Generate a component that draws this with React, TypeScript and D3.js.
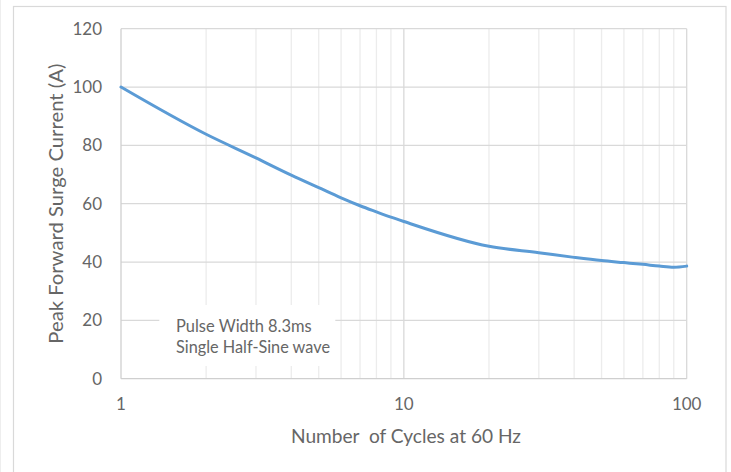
import React from "react";
import * as d3 from "d3";

const cycles = [1, 2, 3, 4, 5, 6, 7, 8, 9, 10, 20, 30, 40, 50, 60, 70, 80, 90, 100];
const current = [100, 83.8, 75.7, 69.8, 65.5, 62.0, 59.3, 57.2, 55.4, 53.9, 45.4, 43.2, 41.6, 40.5, 39.8, 39.2, 38.6, 38.2, 38.6];
const yTicks = [0, 20, 40, 60, 80, 100, 120];
const xMajorTicks = [1, 10, 100];
const xMinorTicks = [2, 3, 4, 5, 6, 7, 8, 9, 20, 30, 40, 50, 60, 70, 80, 90];
const xTitle = "Number  of Cycles at 60 Hz";
const yTitle = "Peak Forward Surge Current (A)";
const noteLines = ["Pulse Width 8.3ms", "Single Half-Sine wave"];

const W = 731;
const H = 472;
const plot = { left: 121, right: 686.7, top: 28.7, bottom: 378.7 };
const FONT = "Lato, 'Open Sans', sans-serif";
const TEXT = "#666666";

export default function App() {
  const x = d3.scaleLog().domain([1, 100]).range([plot.left, plot.right]);
  const y = d3.scaleLinear().domain([0, 120]).range([plot.bottom, plot.top]);
  const line = d3
    .line<number>()
    .x((_, i) => x(cycles[i]))
    .y((d) => y(d))
    .curve(d3.curveMonotoneX);

  return (
    <svg
      width={W}
      height={H}
      style={{ position: "fixed", left: 0, top: 0, background: "#fff" }}
      fontFamily={FONT}
    >
      <rect x={0} y={0} width={W} height={H} fill="#fff" />
      <line x1={0.5} x2={0.5} y1={0} y2={H} stroke="#eeeeee" />
      <rect x={13.5} y={6.5} width={712.5} height={H} fill="none" stroke="#d9d9d9" strokeWidth={1.2} />

      {xMinorTicks.map((t) => (
        <line key={"mn" + t} x1={x(t)} x2={x(t)} y1={plot.top} y2={plot.bottom} stroke="#ececec" strokeWidth={1.3} />
      ))}
      {xMajorTicks.slice(1).map((t) => (
        <line key={"mj" + t} x1={x(t)} x2={x(t)} y1={plot.top} y2={plot.bottom} stroke="#d9d9d9" strokeWidth={1.3} />
      ))}
      {yTicks.slice(1).map((t) => (
        <line key={"h" + t} x1={plot.left} x2={plot.right} y1={y(t)} y2={y(t)} stroke="#d9d9d9" strokeWidth={1.3} />
      ))}
      <line x1={plot.left} x2={plot.left} y1={plot.top} y2={plot.bottom} stroke="#cfcfcf" strokeWidth={1.3} />
      <line x1={plot.left} x2={plot.right} y1={plot.bottom} y2={plot.bottom} stroke="#cfcfcf" strokeWidth={1.3} />

      <rect x={159.3} y={305} width={176} height={61} fill="#fff" />
      <text x={176} y={332.3} fontSize={16.5} fill={TEXT} textLength={135.7} lengthAdjust="spacingAndGlyphs">
        {noteLines[0]}
      </text>
      <text x={176} y={353.3} fontSize={16.5} fill={TEXT} textLength={154} lengthAdjust="spacingAndGlyphs">
        {noteLines[1]}
      </text>

      <path d={line(current) || ""} fill="none" stroke="#5b9bd5" strokeWidth={3} strokeLinejoin="round" strokeLinecap="round" />

      {yTicks.map((t) => (
        <text key={"yl" + t} x={102} y={y(t)} dy="0.36em" textAnchor="end" fontSize={17} fill={TEXT}>
          {t}
        </text>
      ))}
      {xMajorTicks.map((t) => (
        <text key={"xl" + t} x={x(t)} y={410} textAnchor="middle" fontSize={17} fill={TEXT}>
          {t}
        </text>
      ))}

      <text x={291} y={443} fontSize={18.5} fill={TEXT} textLength={230} lengthAdjust="spacingAndGlyphs" xmlSpace="preserve" style={{ whiteSpace: "pre" }}>
        {xTitle}
      </text>
      <text
        transform={`translate(63,${(plot.top + plot.bottom) / 2}) rotate(-90)`}
        textAnchor="middle"
        fontSize={18.5}
        fill={TEXT}
        textLength={280}
        lengthAdjust="spacingAndGlyphs"
      >
        {yTitle}
      </text>
    </svg>
  );
}
